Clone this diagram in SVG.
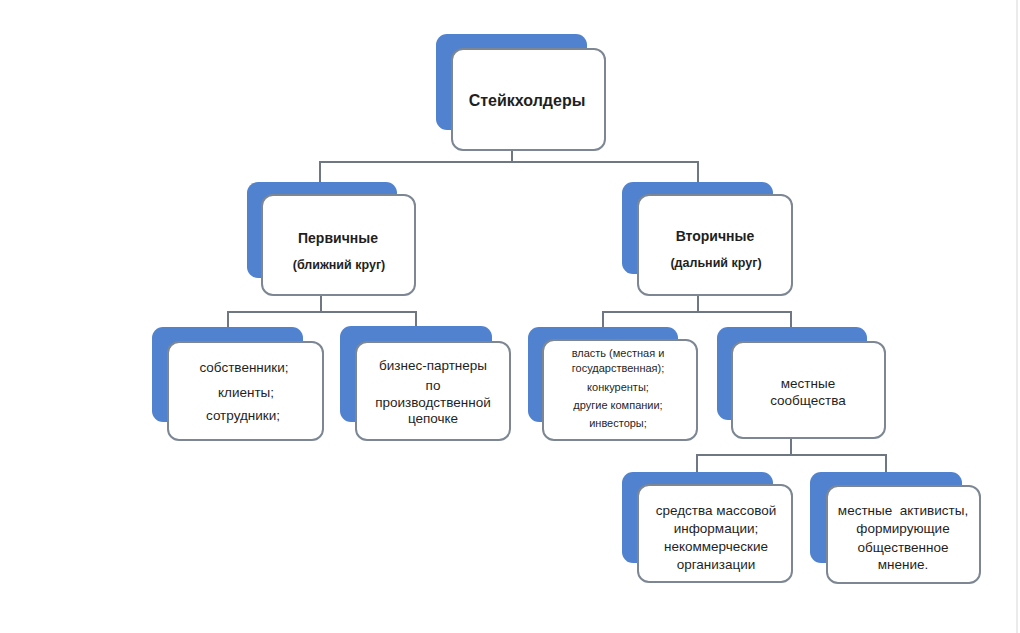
<svg xmlns="http://www.w3.org/2000/svg" width="1020" height="633" viewBox="0 0 1020 633">
<style>
.back{fill:#5182cf;}
.front{fill:#ffffff;stroke:#7d8793;stroke-width:2;}
.conn{fill:none;stroke:#6f7782;stroke-width:2;}
text{font-family:"Liberation Sans",Arial,sans-serif;fill:#1f1f1f;text-anchor:middle;}
.t{font-size:13.5px;}
.s{font-size:11px;}
.b{font-weight:bold;}
</style>
<rect width="1020" height="633" fill="#ffffff"/>
<line x1="1017" y1="0" x2="1017" y2="633" stroke="#ebebeb" stroke-width="2"/>
<g id="connectors">
<path class="conn" d="M512 150 V162 M320 182 V162 H698 V182"/>
<path class="conn" d="M321 295 V312 M228 327 V312 H416 V327"/>
<path class="conn" d="M698 295 V312 M603 327 V312 H791 V327"/>
<path class="conn" d="M791 438 V455 M697 472 V455 H886 V472"/>
</g>
<g id="n-root">
<rect class="back" x="436" y="34" width="151" height="96" rx="11"/>
<rect class="front" x="452" y="49" width="153" height="101" rx="11"/>
<text class="b" x="527" y="106" font-size="16">Стейкхолдеры</text>
</g>
<g id="n-primary">
<rect class="back" x="247" y="182" width="150" height="96" rx="11"/>
<rect class="front" x="262" y="195" width="153" height="100" rx="11"/>
<text class="b" x="338" y="243" font-size="14">Первичные</text>
<text class="b" x="339" y="269" font-size="12.5">(ближний круг)</text>
</g>
<g id="n-secondary">
<rect class="back" x="622" y="182" width="151" height="92" rx="11"/>
<rect class="front" x="638" y="195" width="154" height="100" rx="11"/>
<text class="b" x="715" y="241" font-size="14">Вторичные</text>
<text class="b" x="716" y="267" font-size="12.5">(дальний круг)</text>
</g>
<g id="n-owners">
<rect class="back" x="152" y="327" width="151" height="95" rx="11"/>
<rect class="front" x="168" y="342" width="155" height="98" rx="11"/>
<text class="t" x="244" y="372">собственники;</text>
<text class="t" x="246" y="397">клиенты;</text>
<text class="t" x="243" y="420">сотрудники;</text>
</g>
<g id="n-partners">
<rect class="back" x="340" y="326" width="152" height="96" rx="11"/>
<rect class="front" x="356" y="342" width="154" height="98" rx="11"/>
<text class="t" x="433" y="370">бизнес-партнеры</text>
<text class="t" x="433" y="390">по</text>
<text class="t" x="433" y="407">производственной</text>
<text class="t" x="433" y="423">цепочке</text>
</g>
<g id="n-power">
<rect class="back" x="528" y="327" width="150" height="95" rx="11"/>
<rect class="front" x="543" y="340" width="154" height="100" rx="11"/>
<text class="s" x="618" y="357">власть (местная и</text>
<text class="s" x="618" y="372">государственная);</text>
<text class="s" x="618" y="391">конкуренты;</text>
<text class="s" x="618" y="409">другие компании;</text>
<text class="s" x="618" y="427">инвесторы;</text>
</g>
<g id="n-local">
<rect class="back" x="717" y="327" width="150" height="93" rx="11"/>
<rect class="front" x="732" y="342" width="153" height="96" rx="11"/>
<text class="t" x="808" y="388">местные</text>
<text class="t" x="808" y="405">сообщества</text>
</g>
<g id="n-media">
<rect class="back" x="622" y="472" width="151" height="91" rx="11"/>
<rect class="front" x="638" y="485" width="154" height="97" rx="11"/>
<text class="t" x="716" y="515">средства массовой</text>
<text class="t" x="716" y="533">информации;</text>
<text class="t" x="716" y="551">некоммерческие</text>
<text class="t" x="716" y="569">организации</text>
</g>
<g id="n-activists">
<rect class="back" x="810" y="472" width="152" height="91" rx="11"/>
<rect class="front" x="827" y="486" width="153" height="97" rx="11"/>
<text class="t" x="903" y="515" xml:space="preserve">местные  активисты,</text>
<text class="t" x="903" y="533">формирующие</text>
<text class="t" x="903" y="552">общественное</text>
<text class="t" x="903" y="569">мнение.</text>
</g>
</svg>
